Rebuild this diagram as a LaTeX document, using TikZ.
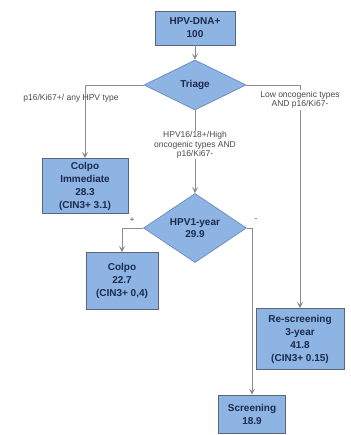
\documentclass[tikz,border=0pt]{standalone}
\usepackage{fontspec}
\setmainfont{Liberation Sans}
\usetikzlibrary{shapes.geometric,arrows.meta}

\definecolor{boxfill}{HTML}{8DB4E2}
\definecolor{boxline}{HTML}{5A6678}
\definecolor{dialine}{HTML}{6F8FC0}
\definecolor{boxtext}{HTML}{1C2A4C}
\definecolor{conn}{HTML}{8C8C8C}
\definecolor{labtext}{HTML}{4A4A4A}

\begin{document}
\begin{tikzpicture}[x=1pt,y=-1pt,
  box/.style={draw=boxline, fill=boxfill, line width=0.9pt, align=center,
    font=\fontsize{10}{13}\selectfont\bfseries, text=boxtext, inner sep=1pt},
  decision/.style={diamond, draw=dialine, fill=boxfill, line width=0.8pt, align=center,
    font=\fontsize{10}{12}\selectfont\bfseries, text=boxtext, inner sep=0pt},
  conn/.style={draw=conn, line width=0.9pt,
    -{Stealth[length=6pt,width=6pt,inset=2.5pt]}},
  lab/.style={font=\fontsize{8.5}{9.5}\selectfont, text=labtext, align=center, inner sep=1pt}]

\useasboundingbox (0,0) rectangle (350,435);

% boxes and decisions
\node[box, minimum width=80pt, minimum height=34pt] (dna) at (195,28) {HPV-DNA+\\100};
\node[decision, minimum width=102pt, minimum height=50pt] (tri) at (195,85) {Triage};
\node[box, minimum width=86pt, minimum height=55pt] (ci) at (85,186) {Colpo\\Immediate\\28.3\\(CIN3+ 3.1)};
\node[decision, minimum width=103pt, minimum height=51pt] (hy) at (195,228) {HPV1-year\\29.9};
\node[box, minimum width=72pt, minimum height=57pt] (cp) at (122,281) {Colpo\\22.7\\(CIN3+ 0,4)};
\node[box, minimum width=88pt, minimum height=61pt] (rs) at (300,339) {Re-screening\\3-year\\41.8\\(CIN3+ 0.15)};
\node[box, minimum width=67pt, minimum height=38pt] (sc) at (252,414) {Screening\\18.9};

% connectors
\draw[conn] (dna) -- (tri);
\draw[conn] (tri.west) -| (ci.north);
\draw[conn] (tri.east) -| (rs.north);
\draw[conn] (tri.south) -- (hy.north);
\draw[conn] (hy.west) -| (cp.north);
\draw[conn] (hy.east) -| (sc.north);

% branch labels
\node[lab] (l1) at (71,98) {p16/Ki67+/ any HPV type};
\node[lab, fill=white] (l2) at (195,145) {HPV16/18+/High\\oncogenic types AND\\p16/Ki67-};
\node[lab, fill=white] (l3) at (300,100) {Low oncogenic types\\AND p16/Ki67-};
\node[lab] (pos) at (132,220) {+};
\node[lab] (neg) at (256,220) {-};
\end{tikzpicture}
\end{document}
